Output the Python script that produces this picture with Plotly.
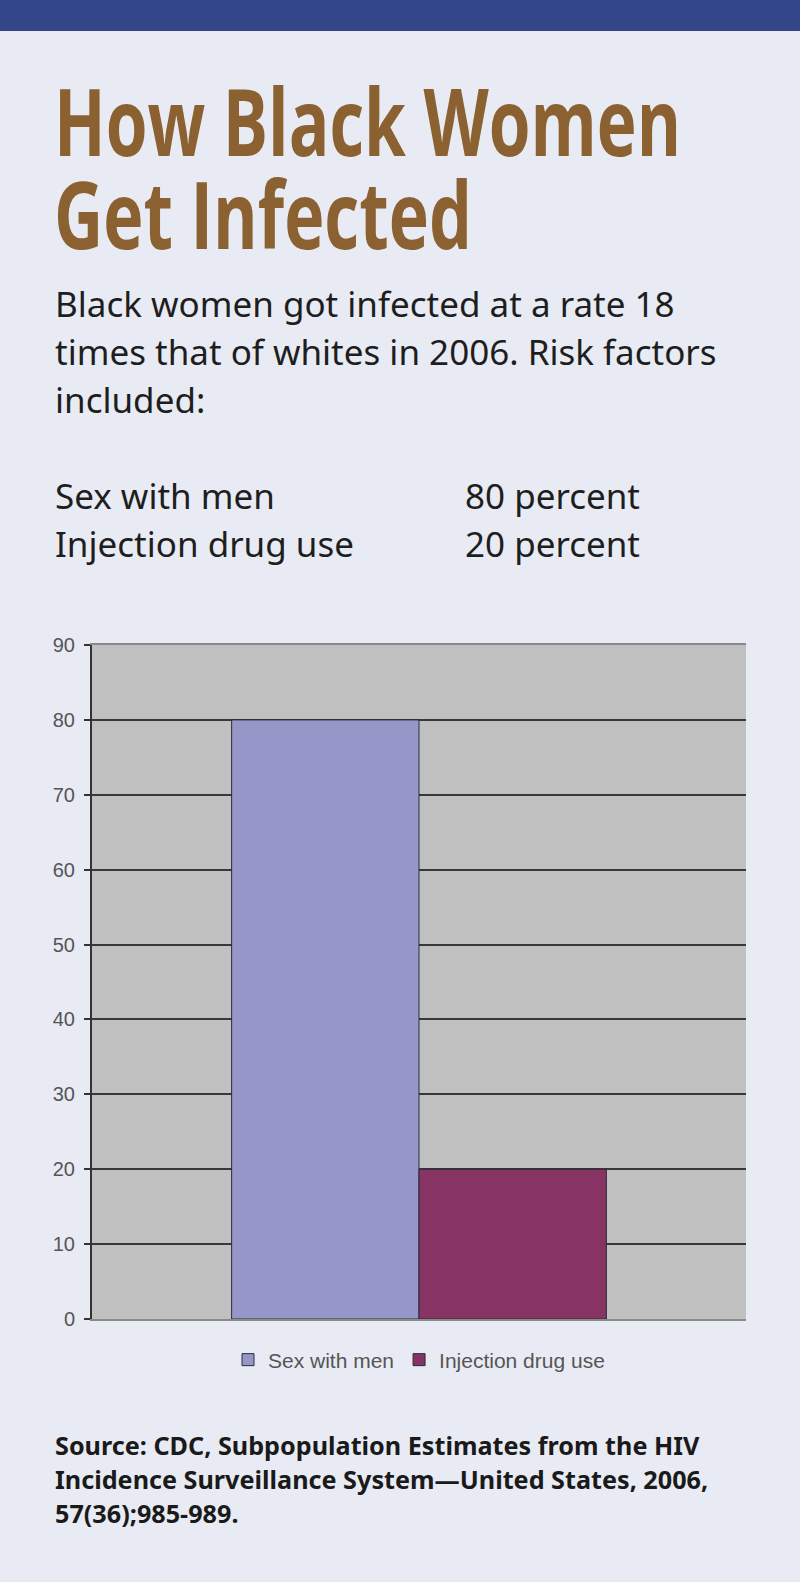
import json
import plotly.graph_objects as go

# ---- data ----
categories = ["Sex with men", "Injection drug use"]
values = [80, 20]
bar_colors = ["#9696c8", "#873464"]
y_ticks = [0, 10, 20, 30, 40, 50, 60, 70, 80, 90]

title_lines = ["How Black Women", "Get Infected"]
intro_lines = [
    "Black women got infected at a rate 18",
    "times that of whites in 2006. Risk factors",
    "included:",
]
factor_labels = ["Sex with men", "Injection drug use"]
factor_values = ["80 percent", "20 percent"]
source_lines = [
    "Source: CDC, Subpopulation Estimates from the HIV",
    "Incidence Surveillance System\u2014United States, 2006,",
    "57(36);985-989.",
]

# ---- layout geometry (pixels) ----
W, H = 800, 1587
L, R, T, B = 92, 54, 645, 268
PW = W - L - R
PH = H - T - B
BG = "#e8ebf3"


def px_x(x):
    return (x - L) / PW


def px_y(y):
    return (H - B - y) / PH


fig = go.Figure()
for name, val, col in zip(categories, values, bar_colors):
    fig.add_trace(go.Bar(
        x=["Risk factors"], y=[val], name=name,
        marker=dict(color=col, line=dict(color="#2a2a3a", width=1)),
        hoverinfo="name+y",
    ))

annotations = []
TITLE_FONT = "Open Sans, Noto Sans, sans-serif"
BODY_FONT = "Noto Sans, Open Sans, sans-serif"
DESC = 0.293  # descent of Noto / Open Sans, in em


def add_text(text, x, baseline, size, family, color, weight="normal"):
    annotations.append(dict(
        text=text, xref="paper", yref="paper", x=px_x(x), y=px_y(baseline),
        xanchor="left", yanchor="bottom", yshift=-(DESC * size + 1), showarrow=False,
        font=dict(family=family, size=size, color=color, weight=weight), align="left",
    ))


# title
for line, base in zip(title_lines, [157, 250]):
    add_text(line, 52, base, 94, TITLE_FONT, "#8c6131", weight=700)

# intro text
for line, base in zip(intro_lines, [318, 366, 414]):
    add_text(line, 53, base, 35, BODY_FONT, "#1e1e1e")

for lab, v, base in zip(factor_labels, factor_values, [510, 558]):
    add_text(lab, 53, base, 35, BODY_FONT, "#1e1e1e")
    add_text(v, 463, base, 35, BODY_FONT, "#1e1e1e")

# source
for line, base in zip(source_lines, [1456, 1490, 1524]):
    add_text(line, 53, base, 25.2, BODY_FONT, "#1a1a1a", weight=700)

shapes = [
    dict(type="rect", xref="paper", yref="paper",
         x0=px_x(0), x1=px_x(W), y0=px_y(31), y1=px_y(0),
         fillcolor="#34468a", line=dict(width=0), layer="below"),
    dict(type="rect", xref="paper", yref="paper",
         x0=px_x(0), x1=px_x(W), y0=px_y(H), y1=px_y(1582),
         fillcolor="#ffffff", line=dict(width=0), layer="below"),
]

fig.update_layout(
    width=W, height=H,
    margin=dict(l=L, r=R, t=T, b=B, pad=0),
    paper_bgcolor=BG,
    plot_bgcolor="#c0c0c0",
    barmode="group",
    bargap=0.427,
    bargroupgap=0,
    showlegend=True,
    legend=dict(
        orientation="h", x=0.5, xanchor="center", y=px_y(1360), yanchor="middle",
        font=dict(family="Liberation Sans, Arial, sans-serif", size=21, color="#555555"),
        bgcolor="rgba(0,0,0,0)", itemwidth=30, traceorder="normal",
    ),
    xaxis=dict(
        showticklabels=False, ticks="", showgrid=False, zeroline=False,
        showline=True, mirror=True, linecolor="#8a8a8a", linewidth=2,
    ),
    yaxis=dict(
        range=[0, 90], tickvals=y_ticks, ticktext=[str(v) for v in y_ticks],
        showgrid=True, gridcolor="#383838", gridwidth=2, zeroline=False,
        showline=True, linecolor="#333333", linewidth=2,
        ticks="outside", ticklen=6, tickcolor="#333333", tickwidth=2,
        ticklabelstandoff=5,
        tickfont=dict(family="Liberation Sans, Arial, sans-serif", size=20, color="#555555"),
    ),
    annotations=annotations,
    shapes=shapes,
)

# page setup: no body margin; condense the title glyphs to the reference's width
title_widths = {title_lines[0]: 627, title_lines[1]: 418}
post = """
document.documentElement.style.margin='0';
document.body.style.margin='0';
document.body.style.background='%s';
document.documentElement.style.overflow='hidden';
var widths = %s;
var gd = document.getElementById('{plot_id}');
gd.querySelectorAll('text.annotation-text').forEach(function(t){
  var w = widths[t.textContent];
  if (w) {
    t.setAttribute('textLength', w);
    t.setAttribute('lengthAdjust', 'spacingAndGlyphs');
    var r = t.parentNode.querySelector('rect.bg');
    if (r) { r.setAttribute('width', w + 2); }
  }
});
""" % (BG, json.dumps(title_widths))

fig.write_html("out.html", post_script=post, config={"displayModeBar": False})
